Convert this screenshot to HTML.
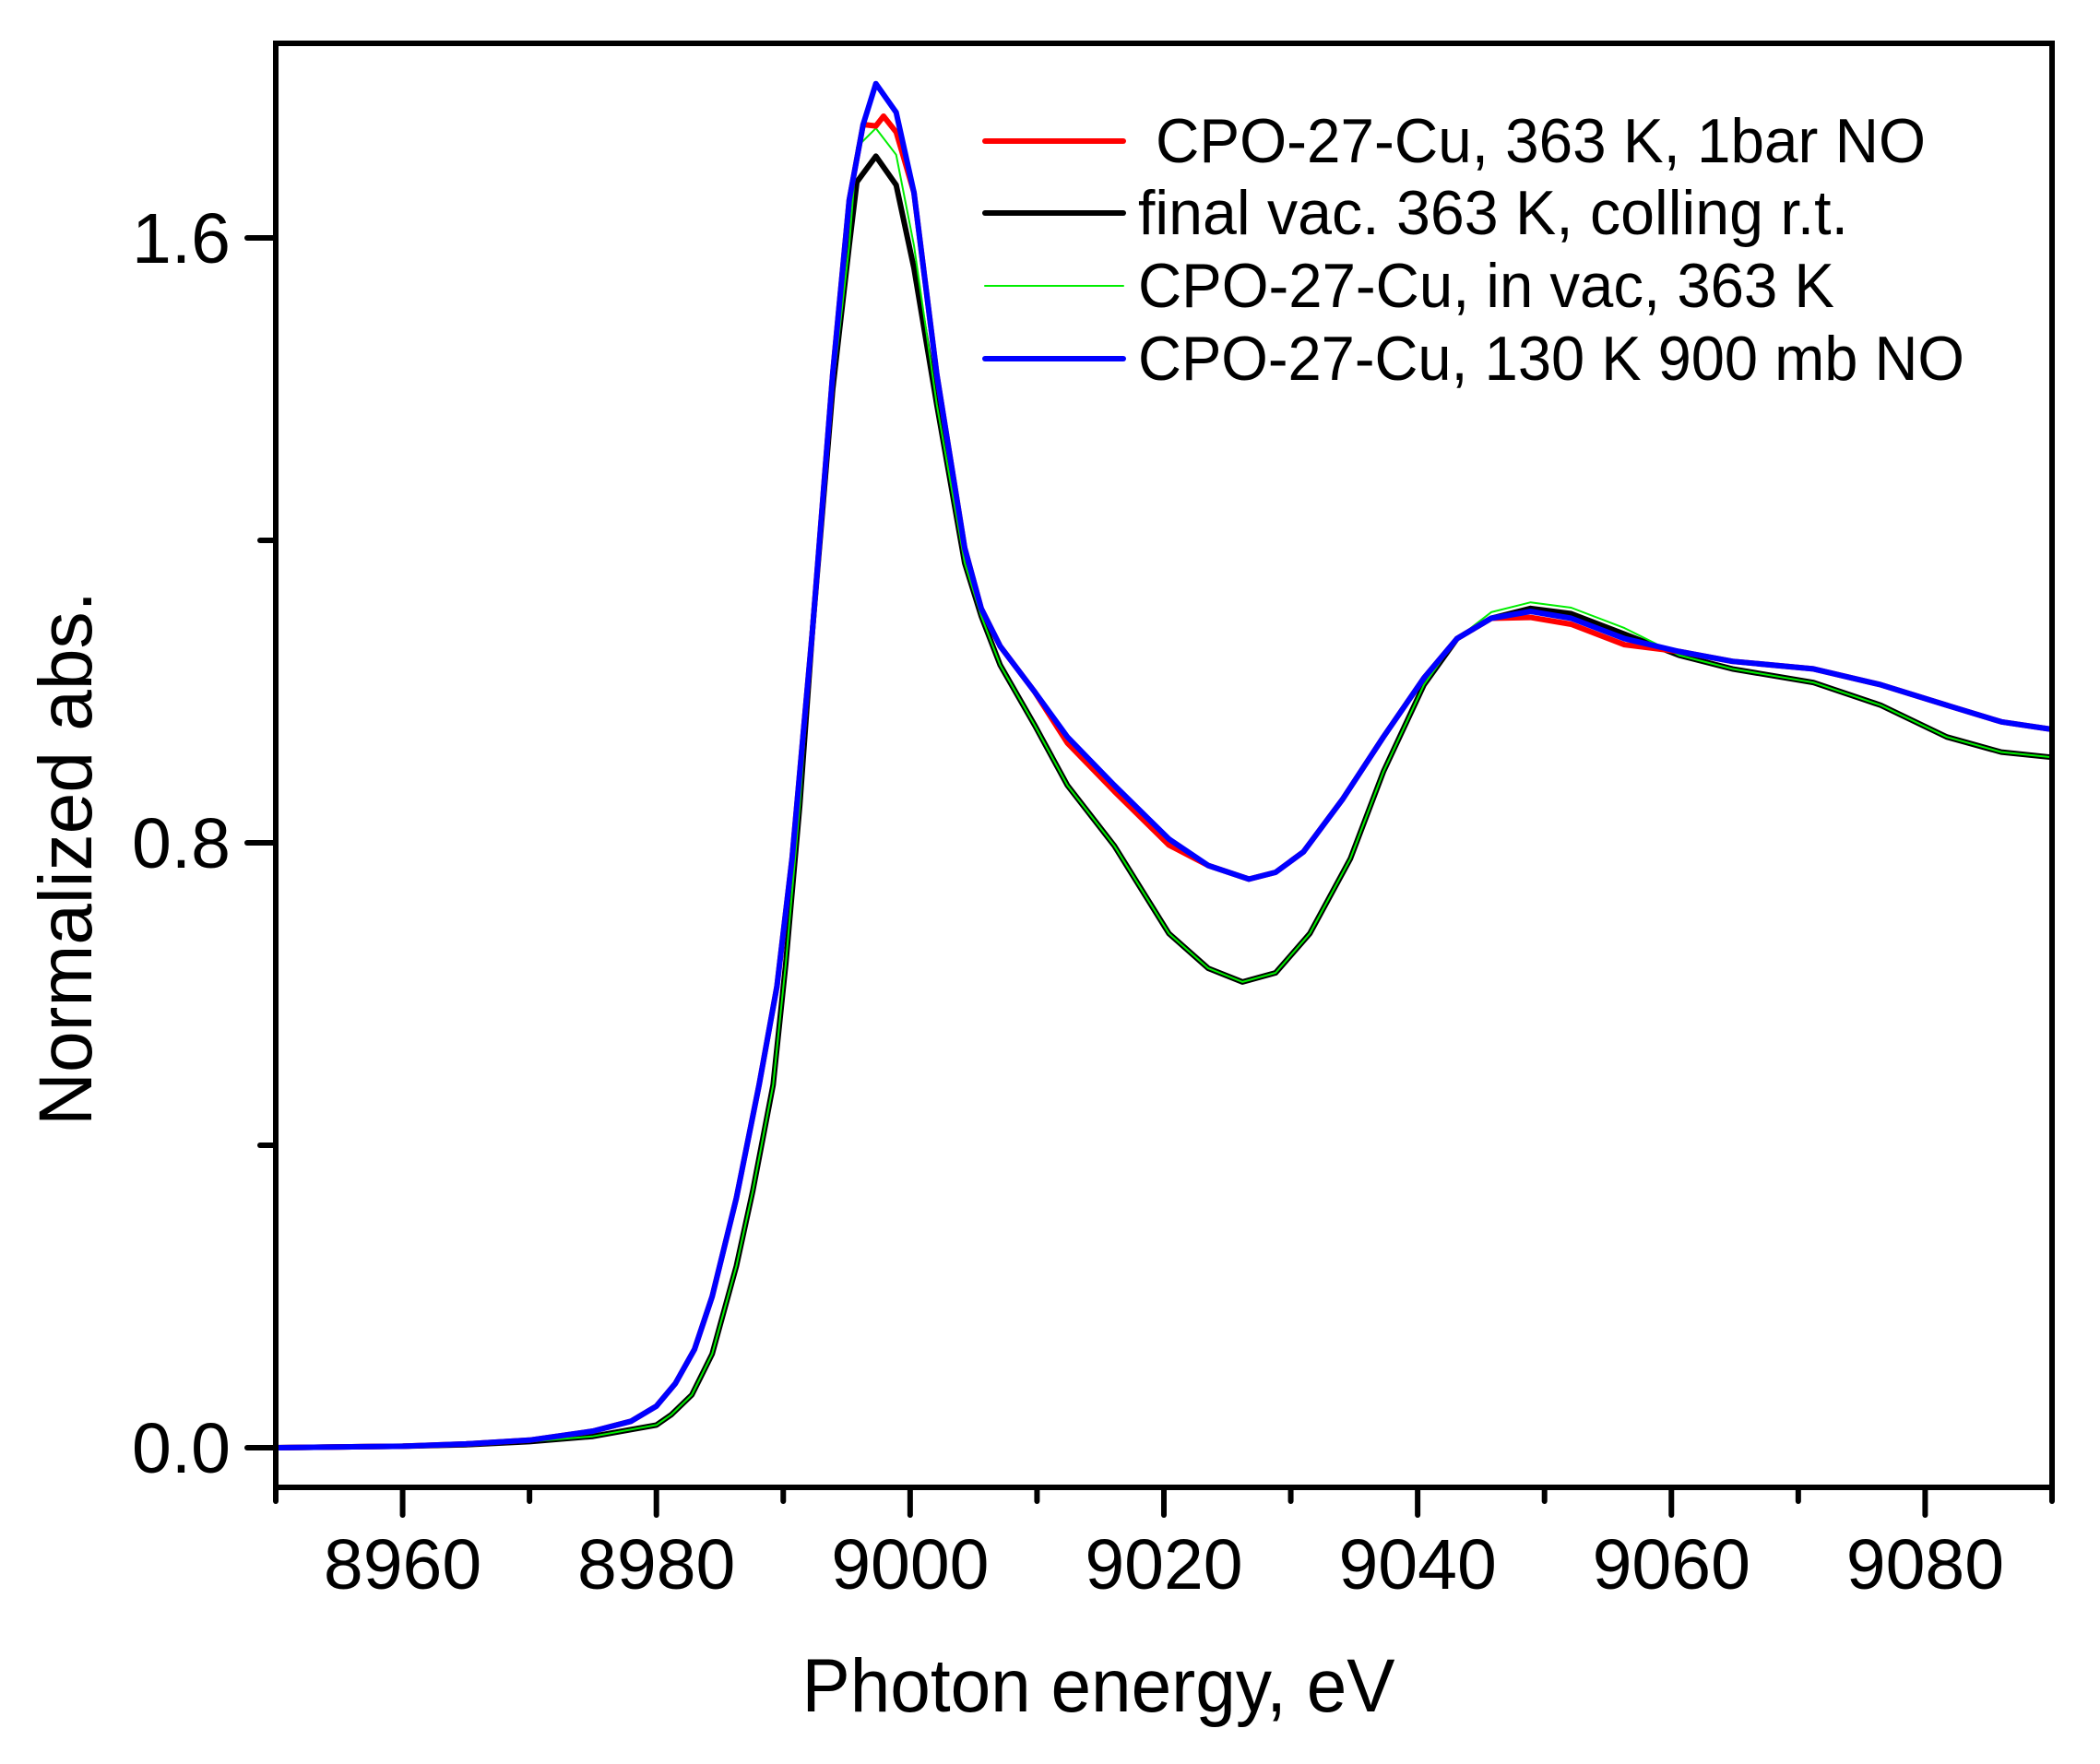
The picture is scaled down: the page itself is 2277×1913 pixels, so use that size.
<!DOCTYPE html>
<html><head><meta charset="utf-8"><style>
html,body{margin:0;padding:0;background:#fff;}
svg{display:block;}
text{font-family:"Liberation Sans",Arial,sans-serif;fill:#000;}
</style></head><body>
<svg id="s" width="2277" height="1913" viewBox="0 0 2277 1913" xmlns="http://www.w3.org/2000/svg">
<g id="curves" fill="none" stroke-linejoin="round" stroke-linecap="round"></g>
<rect x="299" y="47" width="1926" height="1566" fill="none" stroke="#000" stroke-width="6"/>
<g stroke="#000" stroke-width="6" stroke-linecap="round">
<line x1="268" y1="1570" x2="299" y2="1570"/>
<line x1="282" y1="1242" x2="299" y2="1242"/>
<line x1="268" y1="914" x2="299" y2="914"/>
<line x1="282" y1="586" x2="299" y2="586"/>
<line x1="268" y1="258" x2="299" y2="258"/>
<g id="xt"></g>
</g>
<g font-size="77" text-anchor="end">
<text x="250" y="1597">0.0</text>
<text x="250" y="941">0.8</text>
<text x="250" y="285">1.6</text>
</g>
<g id="xl" font-size="77" text-anchor="middle"></g>
<text x="1191" y="1856" font-size="82" text-anchor="middle" textLength="643" lengthAdjust="spacingAndGlyphs">Photon energy, eV</text>
<text transform="translate(99,931) rotate(-90)" font-size="82" text-anchor="middle" textLength="580" lengthAdjust="spacingAndGlyphs">Normalized abs.</text>
<g stroke-linecap="round">
<line x1="1068" y1="153" x2="1218" y2="153" stroke="#ff0000" stroke-width="6"/>
<line x1="1068" y1="231" x2="1218" y2="231" stroke="#000" stroke-width="6"/>
<line x1="1068" y1="310" x2="1218" y2="310" stroke="#00ee00" stroke-width="2"/>
<line x1="1068" y1="389" x2="1218" y2="389" stroke="#0000ff" stroke-width="6"/>
</g>
<g font-size="68">
<text x="1253" y="176" textLength="835" lengthAdjust="spacingAndGlyphs">CPO-27-Cu, 363 K, 1bar NO</text>
<text x="1234" y="254" textLength="770" lengthAdjust="spacingAndGlyphs">final vac. 363 K, colling r.t.</text>
<text x="1234" y="333" textLength="755" lengthAdjust="spacingAndGlyphs">CPO-27-Cu, in vac, 363 K</text>
<text x="1234" y="412" textLength="896" lengthAdjust="spacingAndGlyphs">CPO-27-Cu, 130 K 900 mb NO</text>
</g>
</svg>
<script>
var NS="http://www.w3.org/2000/svg";
function X(e){return 299+(e-8950)*13.757;}
function Y(v){return 1570-820*v;}
var xt=document.getElementById('xt'),xl=document.getElementById('xl');
for(var e=8950;e<=9090;e+=10){
 var l=document.createElementNS(NS,'line');var maj=(e%20==0);
 l.setAttribute('x1',X(e));l.setAttribute('x2',X(e));l.setAttribute('y1',1613);l.setAttribute('y2',maj?1643:1628);xt.appendChild(l);
 if(maj&&e>8950){var t=document.createElementNS(NS,'text');t.setAttribute('x',X(e));t.setAttribute('y',1723);t.textContent=e;xl.appendChild(t);}
}
var no=[[8950,0],[8960,0.002],[8965,0.005],[8970,0.01],[8975,0.022],[8978,0.035],[8980,0.055],[8981.5,0.085],[8983,0.13],[8984.4,0.2],[8986.3,0.33],[8988.1,0.48],[8989.5,0.61],[8990.7,0.78],[8992.3,1.08],[8993.9,1.42],[8995.2,1.65],[8996.3,1.75],[8997.3,1.804],[8998.9,1.766],[9000.3,1.66],[9002.1,1.42],[9004.3,1.19],[9005.6,1.11],[9007.1,1.06],[9009.8,1.0],[9012.4,0.94],[9016.1,0.876],[9020.4,0.805],[9023.5,0.77],[9026.7,0.752],[9028.8,0.761],[9031,0.788],[9034.1,0.858],[9037.3,0.94],[9040.5,1.018],[9043.1,1.07],[9045.8,1.097],[9048.9,1.106],[9052.1,1.097],[9056.3,1.07],[9060.6,1.053],[9064.8,1.04],[9071.2,1.03],[9076.5,1.009],[9081.7,0.982],[9086,0.96],[9090.3,0.95]];
var red=no.map(function(p){var e=p[0],v=p[1];
 if(e==8997.3)v=1.748; if(e==8998.9)v=1.74;
 if(e>=9012&&e<=9021)v-=0.008;
 if(e>=9046&&e<=9057)v-=0.008; return [e,v];});
red.splice(red.findIndex(function(p){return p[0]==8998.9;}),0,[8997.9,1.761]);
var vac=[[8950,0],[8960,0.002],[8965,0.004],[8970,0.008],[8975,0.015],[8980,0.03],[8981.2,0.044],[8982.8,0.07],[8984.4,0.124],[8986.3,0.24],[8987.6,0.34],[8989.2,0.48],[8990.2,0.64],[8991.3,0.85],[8992.3,1.08],[8993.9,1.40],[8995.2,1.59],[8995.8,1.674],[8997.3,1.708],[8998.9,1.67],[9000.3,1.56],[9002.1,1.38],[9004.3,1.17],[9005.6,1.10],[9007.1,1.035],[9009.8,0.956],[9012.4,0.876],[9016.1,0.796],[9020.4,0.68],[9023.5,0.634],[9026.2,0.616],[9028.8,0.628],[9031.5,0.68],[9034.7,0.779],[9037.3,0.894],[9040.5,1.009],[9043.1,1.07],[9045.8,1.097],[9048.9,1.11],[9052.1,1.103],[9056.3,1.076],[9060.6,1.048],[9064.8,1.03],[9071.2,1.012],[9076.5,0.982],[9081.7,0.94],[9086,0.92],[9090.3,0.913]];
var green=vac.map(function(p){var e=p[0],v=p[1];
 if(e==8995.8)v=1.72; if(e==8997.3)v=1.745; if(e==8998.9)v=1.71; if(e==9000.3)v=1.59;
 if(e>=9045&&e<=9058)v+=0.008; return [e,v];});
var g=document.getElementById('curves');
function add(d,c,w){var p=document.createElementNS(NS,'polyline');
 p.setAttribute('points',d.map(function(q){return Math.min(X(q[0]),2225).toFixed(1)+','+Y(q[1]).toFixed(1);}).join(' '));
 p.setAttribute('stroke',c);p.setAttribute('stroke-width',w);g.appendChild(p);}
add(vac,'#000000',6);
add(green,'#00ee00',2);
add(red,'#ff0000',6);
add(no,'#0000ff',6);
</script>
</body></html>
